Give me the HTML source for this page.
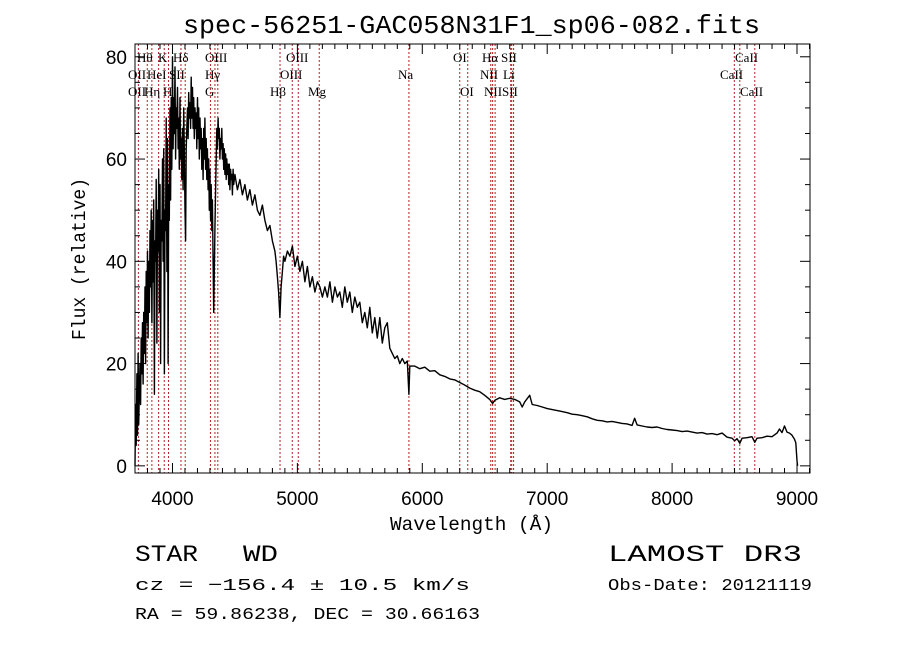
<!DOCTYPE html>
<html><head><meta charset="utf-8"><style>
html,body{margin:0;padding:0;background:#fff;width:900px;height:649px;overflow:hidden}
svg{display:block}
text{font-family:"Liberation Mono",monospace;fill:#000}
.ser{font-family:"Liberation Serif",serif;font-size:13px}
.tk{font-family:"Liberation Sans",sans-serif;font-size:19px}
</style></head><body>
<svg id="chart" width="900" height="649" viewBox="0 0 900 649" xmlns="http://www.w3.org/2000/svg">
<g id="lines"></g>
<g id="labels"></g>
<path id="spec" fill="none" stroke="#000" stroke-width="1.4" stroke-linejoin="round"/>
<rect x="135" y="44" width="675" height="429" fill="none" stroke="#000" stroke-width="1"/>
<g id="ticks"></g>
<text x="183" y="33" font-size="26" textLength="577" lengthAdjust="spacingAndGlyphs">spec-56251-GAC058N31F1_sp06-082.fits</text>
<text x="390" y="530" font-size="19" textLength="163" lengthAdjust="spacingAndGlyphs">Wavelength (Å)</text>
<text transform="translate(85,340) rotate(-90)" font-size="19" textLength="162" lengthAdjust="spacingAndGlyphs">Flux (relative)</text>
<text x="135" y="561" font-size="23" textLength="63" lengthAdjust="spacingAndGlyphs">STAR</text>
<text x="243" y="561" font-size="23" textLength="35" lengthAdjust="spacingAndGlyphs">WD</text>
<text x="608" y="561" font-size="23" textLength="194" lengthAdjust="spacingAndGlyphs">LAMOST DR3</text>
<text x="135" y="590" font-size="17" textLength="335" lengthAdjust="spacingAndGlyphs">cz = −156.4 ± 10.5 km/s</text>
<text x="608" y="590" font-size="17" textLength="204" lengthAdjust="spacingAndGlyphs">Obs-Date: 20121119</text>
<text x="135" y="619" font-size="17" textLength="345" lengthAdjust="spacingAndGlyphs">RA =  59.86238, DEC =  30.66163</text>
</svg>
<script>
const wave=[
3700,3705,3710,3715,3720,3725,3730,3735,3740,3745,
3750,3755,3760,3765,3770,3775,3780,3785,3790,3795,
3800,3805,3810,3815,3820,3825,3830,3835,3840,3845,
3850,3855,3860,3865,3870,3875,3880,3885,3890,3895,
3900,3905,3910,3915,3920,3925,3930,3935,3940,3945,
3950,3955,3960,3965,3970,3975,3980,3985,3990,3995,
4000,4005,4010,4015,4020,4025,4030,4035,4040,4045,
4050,4055,4060,4065,4070,4075,4080,4085,4090,4095,
4100,4105,4110,4115,4120,4125,4130,4135,4140,4145,
4150,4155,4160,4165,4170,4175,4180,4185,4190,4195,
4200,4205,4210,4215,4220,4225,4230,4235,4240,4245,
4250,4255,4260,4265,4270,4275,4280,4285,4290,4295,
4300,4305,4310,4315,4320,4325,4330,4335,4340,4345,
4350,4355,4360,4365,4370,4375,4380,4385,4390,4395,
4400,4405,4410,4415,4420,4425,4430,4435,4440,4445,
4450,4455,4460,4465,4470,4475,4480,4485,4490,4495,
4500,4520,4540,4560,4580,4600,4620,4640,4660,4680,
4700,4720,4740,4760,4780,4800,
4820,4830,4840,4850,4860,4870,4880,4890,4900,
4920,4940,4960,4980,5000,5020,5040,5060,5080,5100,
5120,5140,5160,5180,5200,
5220,5240,5260,5280,5300,5320,5340,5360,5380,5400,
5420,5440,5460,5480,5500,5520,5540,5560,5580,5600,
5620,5640,5660,5680,5700,5720,5740,5760,5780,5800,
5820,5840,5860,5880,5893,5900,
5940,5980,6020,6060,6100,6140,6180,6220,6260,6300,
6340,6380,6420,6460,6500,6540,6563,6580,6620,6660,
6700,6740,6780,6800,6820,6860,6880,6920,6960,7000,
7040,7080,7120,7160,7200,7240,7280,7320,7360,7400,
7440,7480,7520,7560,7600,7640,7680,7700,7720,7760,
7800,7840,7880,7920,7960,8000,8040,8080,8120,8160,
8200,8240,8280,8320,8360,8400,8440,8480,8500,8520,
8542,8560,8600,8640,8662,8680,8720,8760,8800,8840,
8860,8880,8900,8920,8940,8960,8980,8990,9000,9005];
const flux=[
0,12,4,18,6,22,8,15,20,12,
25,18,28,16,30,22,35,20,38,28,
42,25,40,30,46,35,50,28,48,36,
52,14,44,40,56,24,50,42,58,30,
55,20,48,44,60,40,62,18,50,46,
68,38,64,20,55,48,70,52,72,58,
80,62,72,65,78,60,70,66,74,62,
68,58,72,60,64,56,66,54,70,62,
50,44,62,66,70,64,73,68,71,66,
76,68,74,66,72,64,70,66,69,62,
72,64,70,60,68,62,66,58,64,56,
66,60,68,58,64,56,62,54,60,50,
58,48,55,46,52,40,30,38,46,54,
60,66,62,68,64,66,60,64,62,66,
60,63,58,62,57,61,56,60,57,59,
55,59,54,58,56,57,53,58,55,56,
57,54,56,53,55,52,54,51,53,50,
49,51,48,46,47,44,
42,40,37,34,29,35,38,41,40,
42,41,43,39,41,38,40,36,39,35,
37,34,36,35,33,
35,33,36,32,35,33,34,31,35,32,
34,30,33,31,32,28,30,27,31,26,
29,25,29,24,27,28,23,22,21,21.5,
20,21,20,20.5,14,19.5,
19.5,19,19.3,18.5,18.6,17.8,17.5,17,16.8,16.3,
15.8,15.2,14.8,14.5,13.8,13,12.2,12.8,13.3,13,
13.2,13,12.5,11.5,12.5,13.8,12,11.8,11.5,11.2,
11,10.8,10.6,10.4,10.1,10,9.8,9.6,9.2,8.9,
8.8,8.6,8.7,8.5,8.3,8.2,7.9,9.3,8,7.8,
7.6,7.5,7.6,7.3,7.1,7,6.9,6.7,6.8,6.6,
6.4,6.5,6.2,6.3,6.1,6.4,5.6,5.4,4.9,5.3,
4.4,5.4,5.5,5.7,4.6,5.4,5.5,5.8,5.7,6.4,
7.2,6.5,7.8,6.6,6.4,6,5.2,4.5,1,0];
const xTicksMajor=[4000,5000,6000,7000,8000,9000];
const yTicksMajor=[0,20,40,60,80];
const lineWaves=[3727,3798,3835,3889,3934,3968,4068,4102,4304,4340,4363,4861,4959,5007,5175,5893,6300,6364,6548,6563,6583,6708,6716,6731,8498,8542,8662];
const lineLabels=[["Hθ",137,62],["K",158,62],["Hδ",173,62],["OIII",205,62],["OIII",286,62],["OI",453,62],["Hα",482,62],["SII",501,62],["CaII",735,62],
["OII",128,79],["HeI",147,79],["SII",169,79],["Hγ",205,79],["OIII",280,79],["Na",398,79],["NII",480,79],["Li",503,79],["CaII",720,79],
["OII",128,96],["Hη",144,96],["H",163,96],["G",205,96],["Hβ",270,96],["Mg",308,96],["OI",460,96],["NII",484,96],["SII",502,96],["CaII",740,96]];
const X0=3700,X1=9104,Y0=-1.4,Y1=82.5,L=135,R=810,T=44,B=473;
function sx(w){return L+(w-X0)/(X1-X0)*(R-L);}
function sy(f){return B-(f-Y0)/(Y1-Y0)*(B-T);}
const NS="http://www.w3.org/2000/svg";
function mk(tag,attrs,parent){const e=document.createElementNS(NS,tag);for(const k in attrs)e.setAttribute(k,attrs[k]);parent.appendChild(e);return e;}
const lg=document.getElementById('lines');
lineWaves.forEach(w=>{const l=mk('line',{x1:sx(w),x2:sx(w),y1:T,y2:B,stroke:'#b22222','stroke-width':1,'stroke-dasharray':'2,2'},lg);

});
const lb=document.getElementById('labels');
lineLabels.forEach(a=>{const t=mk('text',{x:a[1],y:a[2],'class':'ser'},lb);t.textContent=a[0];

});
let d='';const n=Math.min(wave.length,flux.length);
for(let i=0;i<n;i++){d+=(i?'L':'M')+sx(wave[i]).toFixed(1)+','+sy(flux[i]).toFixed(1);}
document.getElementById('spec').setAttribute('d',d);
const tg=document.getElementById('ticks');
for(let w=3700;w<=9100;w+=100){const x=sx(w);const maj=w%1000===0;const h=maj?10:5;
mk('line',{x1:x,x2:x,y1:B,y2:B-h,stroke:'#000'},tg);mk('line',{x1:x,x2:x,y1:T,y2:T+h,stroke:'#000'},tg);}
xTicksMajor.forEach(w=>{const t=mk('text',{x:sx(w),y:505,'text-anchor':'middle','class':'tk'},tg);t.textContent=w;

});
for(let f=0;f<=80;f+=5){const y=sy(f);const h=f%20===0?10:5;
mk('line',{x1:L,x2:L+h,y1:y,y2:y,stroke:'#000'},tg);mk('line',{x1:R,x2:R-h,y1:y,y2:y,stroke:'#000'},tg);}
yTicksMajor.forEach(f=>{const t=mk('text',{x:127,y:sy(f)+7,'text-anchor':'end','class':'tk'},tg);t.textContent=f;

});
</script>
</body></html>
